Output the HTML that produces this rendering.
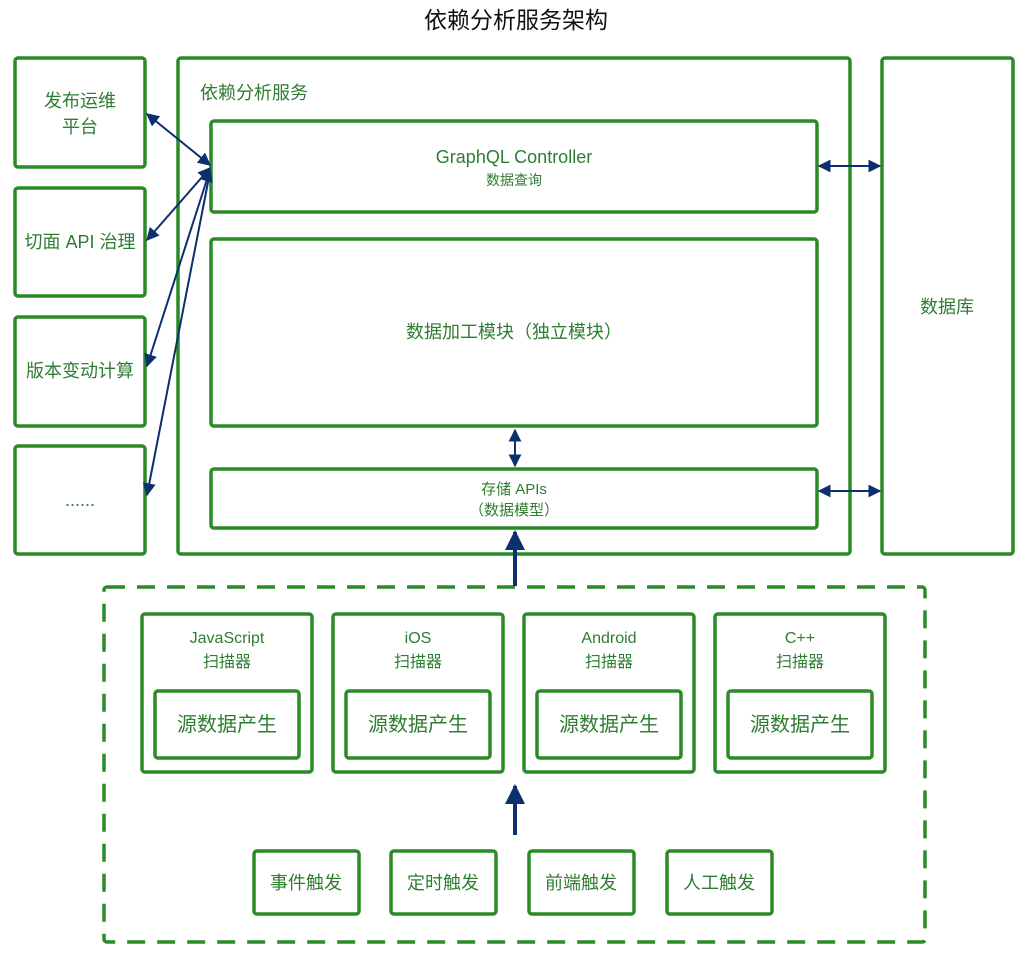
<!DOCTYPE html>
<html><head><meta charset="utf-8"><style>
html,body{margin:0;padding:0;background:#fff;}
svg{display:block;}
text{font-family:"Liberation Sans","Noto Sans CJK SC",sans-serif;fill:#2f7d32;}
</style></head><body>
<svg width="1033" height="959" viewBox="0 0 1033 959" xmlns="http://www.w3.org/2000/svg">
<defs>
<marker id="a" viewBox="0 0 10 10" refX="9" refY="5" markerWidth="6.5" markerHeight="6.5" orient="auto-start-reverse"><path d="M0,0 L10,5 L0,10 z" fill="#0c2f6e"/></marker>
<marker id="b" viewBox="0 0 10 10" refX="9" refY="5" markerWidth="5" markerHeight="5" orient="auto"><path d="M0,0 L10,5 L0,10 z" fill="#0c2f6e"/></marker>
</defs>
<text x="516" y="28" text-anchor="middle" font-size="23" style="fill:#111">依赖分析服务架构</text>
<g fill="none" stroke="#2a8a26" stroke-width="3.5">
<rect x="15" y="58" width="130" height="109" rx="3"/>
<rect x="15" y="188" width="130" height="108" rx="3"/>
<rect x="15" y="317" width="130" height="109" rx="3"/>
<rect x="15" y="446" width="130" height="108" rx="3"/>
<rect x="178" y="58" width="672" height="496" rx="3"/>
<rect x="211" y="121" width="606" height="91" rx="3"/>
<rect x="211" y="239" width="606" height="187" rx="3"/>
<rect x="211" y="469" width="606" height="59" rx="3"/>
<rect x="882" y="58" width="131" height="496" rx="3"/>
<rect x="104" y="587" width="821" height="355" rx="3" stroke-dasharray="18,12"/>
<rect x="142" y="614" width="170" height="158" rx="3"/>
<rect x="333" y="614" width="170" height="158" rx="3"/>
<rect x="524" y="614" width="170" height="158" rx="3"/>
<rect x="715" y="614" width="170" height="158" rx="3"/>
<rect x="155" y="691" width="144" height="67" rx="3"/>
<rect x="346" y="691" width="144" height="67" rx="3"/>
<rect x="537" y="691" width="144" height="67" rx="3"/>
<rect x="728" y="691" width="144" height="67" rx="3"/>
<rect x="254" y="851" width="105" height="63" rx="3"/>
<rect x="391" y="851" width="105" height="63" rx="3"/>
<rect x="529" y="851" width="105" height="63" rx="3"/>
<rect x="667" y="851" width="105" height="63" rx="3"/>
</g>
<g stroke="#0c2f6e" stroke-width="2" fill="none">
<line x1="147" y1="114" x2="210" y2="165" marker-start="url(#a)" marker-end="url(#a)"/>
<line x1="147" y1="240" x2="210" y2="168" marker-start="url(#a)" marker-end="url(#a)"/>
<line x1="147" y1="366" x2="210" y2="170" marker-end="url(#a)" marker-start="url(#a)"/>
<line x1="147" y1="495" x2="210" y2="172" marker-start="url(#a)"/>
<line x1="819" y1="166" x2="880" y2="166" marker-start="url(#a)" marker-end="url(#a)"/>
<line x1="819" y1="491" x2="880" y2="491" marker-start="url(#a)" marker-end="url(#a)"/>
<line x1="515" y1="430" x2="515" y2="466" marker-start="url(#a)" marker-end="url(#a)"/>
<line x1="515" y1="586" x2="515" y2="532" stroke-width="4" marker-end="url(#b)"/>
<line x1="515" y1="835" x2="515" y2="786" stroke-width="4" marker-end="url(#b)"/>
</g>
<g font-size="18" text-anchor="middle">
<text x="80" y="107">发布运维</text>
<text x="80" y="133">平台</text>
<text x="80" y="248">切面 API 治理</text>
<text x="80" y="377">版本变动计算</text>
<text x="80" y="506">......</text>
<text x="200" y="99" text-anchor="start">依赖分析服务</text>
<text x="514" y="163">GraphQL Controller</text>
<text x="514" y="185" font-size="14">数据查询</text>
<text x="514" y="338">数据加工模块（独立模块）</text>
<text x="514" y="494" font-size="15">存储 APIs</text>
<text x="514" y="515" font-size="15">（数据模型）</text>
<text x="947" y="313">数据库</text>
<text x="227" y="643" font-size="16">JavaScript</text>
<text x="227" y="667" font-size="16">扫描器</text>
<text x="418" y="643" font-size="16">iOS</text>
<text x="418" y="667" font-size="16">扫描器</text>
<text x="609" y="643" font-size="16">Android</text>
<text x="609" y="667" font-size="16">扫描器</text>
<text x="800" y="643" font-size="16">C++</text>
<text x="800" y="667" font-size="16">扫描器</text>
<text x="227" y="731" font-size="20">源数据产生</text>
<text x="418" y="731" font-size="20">源数据产生</text>
<text x="609" y="731" font-size="20">源数据产生</text>
<text x="800" y="731" font-size="20">源数据产生</text>
<text x="306" y="889">事件触发</text>
<text x="443" y="889">定时触发</text>
<text x="581" y="889">前端触发</text>
<text x="719" y="889">人工触发</text>
</g>
</svg>
</body></html>
